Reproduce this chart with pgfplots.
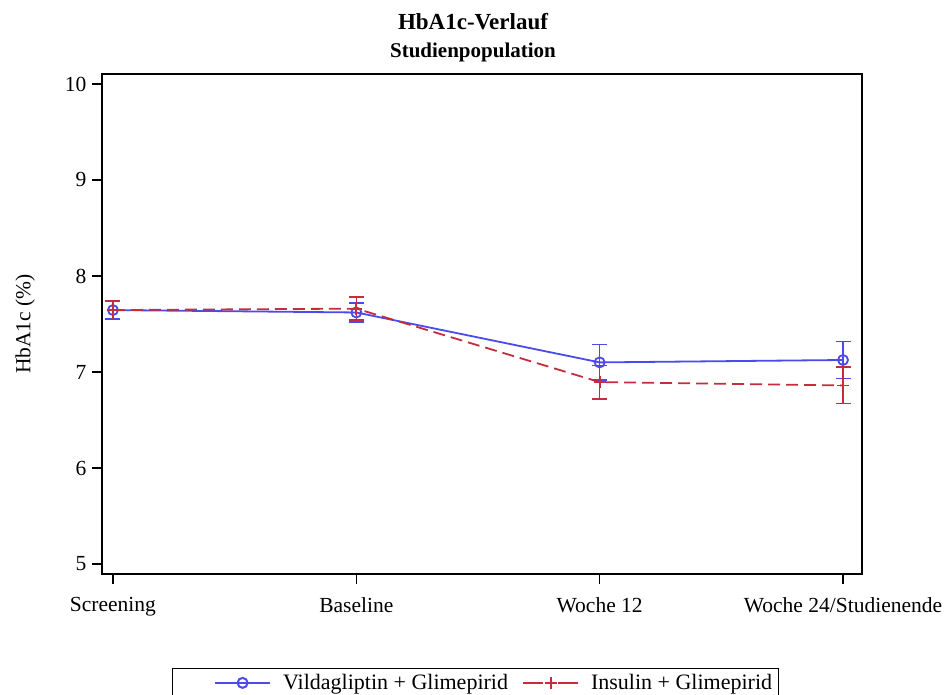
\documentclass[border=0pt]{standalone}
\usepackage{fontspec}
\setmainfont{Liberation Serif}
\usepackage{pgfplots}
\pgfplotsset{compat=1.18}
\definecolor{vblue}{RGB}{75,75,235}
\definecolor{ired}{RGB}{195,45,60}
\begin{document}
\begin{tikzpicture}[x=1pt,y=1pt]
\useasboundingbox (-102,-121) rectangle (844,574);
\node[font=\fontsize{23}{27}\selectfont\bfseries] at (371,552) {HbA1c-Verlauf};
\node[font=\fontsize{21}{25}\selectfont\bfseries] at (371,522) {Studienpopulation};
\begin{axis}[at={(0,0)}, anchor=south west, scale only axis,
  width=760pt, height=500pt,
  xmin=-0.045, xmax=3.078, ymin=4.896, ymax=10.104,
  xtick={0,1,2,3},
  xticklabels={Screening,Baseline,Woche 12,Woche 24/Studienende},
  ytick={5,6,7,8,9,10},
  tick align=outside, tick pos=left, major tick length=10pt,
  axis line style={line width=1.4pt},
  every tick/.style={black, line width=1.4pt},
  tick label style={font=\fontsize{21.5}{25}\selectfont},
  /pgf/number format/assume math mode=true,
  xticklabel style={yshift=-10pt},
  yticklabel style={xshift=-2pt},
  ylabel={HbA1c (\%)},
  ylabel style={font=\fontsize{21.5}{25}\selectfont, at={(axis description cs:-0.101,0.5)}, anchor=center},
  legend columns=2,
  legend style={at={(axis description cs:0.491,-0.188)}, anchor=north,
    draw=black, line width=1pt, font=\fontsize{22}{26}\selectfont,
    inner ysep=4pt, inner xsep=4pt,
    /tikz/every odd column/.append style={column sep=10pt},
    /tikz/every even column/.append style={column sep=12pt}},
  legend cell align=left,
]
\addplot[vblue, line width=1.8pt, mark=o, mark size=5pt,
  legend image code/.code={%
    \path (-38pt,0pt);
    \draw[line width=2pt, mark repeat=2, mark phase=2] plot coordinates {(0pt,0pt) (27.5pt,0pt) (55pt,0pt)};},
  error bars/.cd, y dir=both, y explicit,
  error bar style={line width=1.5pt, vblue, solid},
  error mark options={rotate=90, mark size=7.5pt, line width=1.5pt, vblue}]
  coordinates {(0,7.645) +- (0,0.095) (1,7.62) +- (0,0.10) (2,7.10) +- (0,0.185) (3,7.125) +- (0,0.195)};
\addlegendentry{Vildagliptin + Glimepirid}
\addplot[ired, line width=1.8pt, dash pattern=on 12pt off 6pt, mark=+, mark size=6pt,
  mark options={solid},
  legend image code/.code={%
    \draw[line width=2pt, dash pattern=on 20pt off 15pt, mark repeat=2, mark phase=2] plot coordinates {(0pt,0pt) (27.5pt,0pt) (55pt,0pt)};},
  error bars/.cd, y dir=both, y explicit,
  error bar style={line width=1.5pt, ired, solid},
  error mark options={rotate=90, mark size=7.5pt, line width=1.5pt, ired}]
  coordinates {(0,7.645) +- (0,0.10) (1,7.66) +- (0,0.12) (2,6.895) +- (0,0.175) (3,6.86) +- (0,0.19)};
\addlegendentry{Insulin + Glimepirid}
\end{axis}
\end{tikzpicture}
\end{document}
